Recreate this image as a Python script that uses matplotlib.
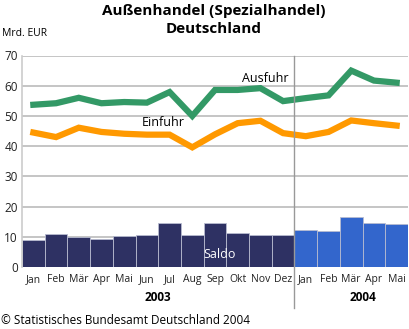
import numpy as np
import matplotlib
matplotlib.use("Agg")
import matplotlib.pyplot as plt

plt.rcParams['font.family'] = ['Open Sans', 'DejaVu Sans']

# monthly values, Mrd. EUR (Jan 2003 .. Mai 2004)
months = ["Jan", "Feb", "Mär", "Apr", "Mai", "Jun", "Jul", "Aug", "Sep", "Okt", "Nov", "Dez",
          "Jan", "Feb", "Mär", "Apr", "Mai"]
ausfuhr = [53.7, 54.2, 56.0, 54.2, 54.6, 54.4, 57.9, 50.0, 58.6, 58.6, 59.2, 54.9,
           55.9, 56.8, 65.0, 61.7, 61.0]
einfuhr = [44.5, 43.0, 46.1, 44.7, 44.1, 43.8, 43.8, 39.6, 43.9, 47.6, 48.4, 44.3,
           43.3, 44.7, 48.5, 47.6, 46.8]
saldo = [9.1, 10.9, 9.8, 9.3, 10.3, 10.6, 14.4, 10.5, 14.4, 11.1, 10.6, 10.6,
         12.4, 12.0, 16.6, 14.4, 14.3]
years = ["2003", "2004"]
n2003 = 12

fig = plt.figure(figsize=(4.09, 3.29), dpi=100)
ax = fig.add_axes([22/409, 1-267/329, 386/409, 211.5/329])

x = np.arange(len(months))
colors = ['#2e3163'] * n2003 + ['#3366cc'] * (len(months) - n2003)
ax.bar(x, saldo, width=1.0, color=colors, edgecolor='#b8bcd0', linewidth=0.6, zorder=2)
ax.plot(x, ausfuhr, color='#339966', lw=4.5, solid_joinstyle='miter', zorder=3)
ax.plot(x, einfuhr, color='#ff9900', lw=4.5, solid_joinstyle='miter', zorder=3)

ax.set_xlim(-0.5, len(months) - 0.5)
ax.set_ylim(0, 70)
ax.set_yticks(range(0, 71, 10))
ax.yaxis.grid(True, color='#bbbbbb', lw=1.2, zorder=1)
ax.set_axisbelow(True)
for s in ['top', 'right', 'bottom']:
    ax.spines[s].set_visible(False)
ax.spines['left'].set_color('#cccccc')
ax.spines['left'].set_linewidth(1.2)
ax.tick_params(axis='y', length=0, labelsize=8.5, pad=3, colors='#222222')
ax.set_xticks(x)
ax.set_xticklabels(months, fontsize=7.5)
ax.tick_params(axis='x', length=0, pad=5, colors='#222222')

# divider between years
ax.axvline(n2003 - 0.5, ymin=-0.195, ymax=1.0, color='#999999', lw=1, clip_on=False, zorder=4)

ax.text(5.5, -0.145, years[0], transform=ax.get_xaxis_transform(), ha='center', va='center',
        fontsize=8.5, fontweight='bold')
ax.text(14.5, -0.145, years[1], transform=ax.get_xaxis_transform(), ha='center', va='center',
        fontsize=8.5, fontweight='bold')

ax.text(10.2, 62.5, "Ausfuhr", ha='center', va='center', fontsize=9)
ax.text(5.7, 47.7, "Einfuhr", ha='center', va='center', fontsize=9)
ax.text(8.2, 4.0, "Saldo", ha='center', va='center', fontsize=9, color='white', zorder=5)

fig.text(214/409, 1-11/329, "Außenhandel (Spezialhandel)", ha='center', va='center',
         fontsize=11, fontweight='bold')
fig.text(214/409, 1-29/329, "Deutschland", ha='center', va='center',
         fontsize=11, fontweight='bold')
fig.text(2/409, 1-33/329, "Mrd. EUR", ha='left', va='center', fontsize=7.5)
fig.text(1/409, 1-320/329, "© Statistisches Bundesamt Deutschland 2004", ha='left', va='center',
         fontsize=8.5)

fig.savefig("out.png", dpi=100)
